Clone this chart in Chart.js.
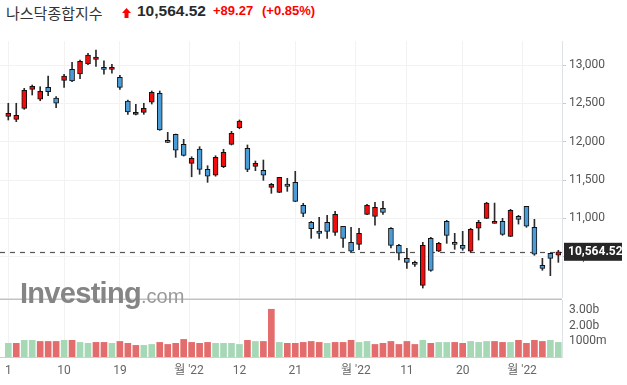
<!DOCTYPE html>
<html>
<head>
<meta charset="utf-8">
<script src="https://cdn.jsdelivr.net/npm/chart.js@4.4.1/dist/chart.umd.min.js"></script>
<style>
    body { margin: 0; width: 627px; height: 385px; background: #fff; position: relative; overflow: hidden; }
    canvas { position: absolute; left: 0; }
    #price-chart { top: 41px; }
    #volume-chart { top: 298px; }
    .hdr { position: absolute; top: 2px; line-height: 20px; white-space: nowrap; }
    #name { left: 6px; font: 15px "Noto Sans CJK KR", sans-serif; color: #333; }
    #last { left: 137px; font: bold 15.5px "Liberation Sans", Arial, sans-serif; color: #2a2a2a; }
    #chg { left: 213px; font: bold 13px "Liberation Sans", Arial, sans-serif; color: #f00; top: 3px; }
    #pct { left: 262px; font: bold 13px "Liberation Sans", Arial, sans-serif; color: #f00; top: 3px; }
    #arrow { position: absolute; left: 122px; top: 8px; }
    #wm { position: absolute; left: 20px; top: 277px; line-height: 29px; white-space: nowrap; color: #858585; }
    #wm .big { font: bold 29px "Liberation Sans", Arial, sans-serif; letter-spacing: -0.7px; }
    #wm .small { font: 20px "Liberation Sans", Arial, sans-serif; color: #9a9a9a; }
</style>
</head>
<body>
<canvas id="price-chart" width="627" height="257"></canvas>
<canvas id="volume-chart" width="627" height="87"></canvas>

<div id="name" class="hdr">나스닥종합지수</div>
<svg id="arrow" width="9" height="10" viewBox="0 0 9 10"><polygon points="4.5,0 9,5 6.5,5 6.5,10 2.5,10 2.5,5 0,5" fill="#f00"/></svg>
<div id="last" class="hdr">10,564.52</div>
<div id="chg" class="hdr">+89.27</div>
<div id="pct" class="hdr">(+0.85%)</div>
<div id="wm"><span class="big">Investing</span><span class="small">.com</span></div>

<script>
// daily OHLC
const opens  = [12331, 12292, 12435, 12683, 12553, 12709, 12570, 12800, 12944, 12883,
                13013, 13074, 12970, 12944, 12840, 12531, 12357, 12383, 12514, 12631,
                12018, 12096, 11966, 11718, 11905, 11640, 11563, 11674, 11966, 12182,
                11914, 11679, 11627, 11405, 11340, 11448, 11470, 11170, 10949, 10835,
                10949, 10818, 10897, 10688, 10662, 11053, 11027, 11131, 10871, 10649,
                10479, 10427, 10127, 10740, 10571, 10962, 10688, 10649, 10571, 10871,
                11001, 10936, 10962, 10766, 11027, 11157, 10884, 10388, 10545, 10519];
const highs  = [12501, 12501, 12696, 12739, 12717, 12857, 12587, 12879, 13035, 13065,
                13153, 13196, 13056, 13009, 12866, 12544, 12488, 12501, 12661, 12661,
                12122, 12100, 12031, 11804, 11935, 11687, 11817, 11901, 12135, 12283,
                11957, 11748, 11761, 11457, 11536, 11523, 11614, 11197, 10962, 11014,
                11040, 11092, 10897, 10884, 10871, 11184, 11210, 11223, 10879, 10662,
                10610, 10444, 10688, 10753, 10688, 10975, 10805, 10831, 10871, 10975,
                11210, 11200, 11001, 11118, 11040, 11157, 10988, 10479, 10545, 10584];
const lows   = [12283, 12261, 12422, 12609, 12534, 12600, 12443, 12709, 12782, 12821,
                13004, 12983, 12879, 12892, 12683, 12357, 12348, 12357, 12491, 12148,
                11987, 11796, 11813, 11543, 11575, 11470, 11550, 11661, 11957, 12169,
                11609, 11622, 11496, 11327, 11335, 11353, 11218, 11022, 10740, 10740,
                10740, 10779, 10623, 10566, 10591, 11048, 10910, 11053, 10614, 10457,
                10349, 10375, 10092, 10310, 10566, 10675, 10597, 10584, 10558, 10718,
                10996, 10936, 10779, 10762, 10926, 10884, 10519, 10323, 10253, 10427];
const closes = [12370, 12344, 12670, 12722, 12657, 12652, 12501, 12857, 12791, 13048,
                13130, 13104, 12944, 12970, 12709, 12387, 12383, 12435, 12644, 12152,
                11992, 11888, 11822, 11783, 11640, 11549, 11796, 11862, 12109, 12270,
                11640, 11718, 11562, 11444, 11536, 11418, 11222, 11066, 10865, 10805,
                10831, 11053, 10740, 10571, 10805, 11170, 11144, 11079, 10649, 10545,
                10427, 10401, 10649, 10323, 10675, 10779, 10662, 10610, 10858, 10949,
                11200, 10962, 10792, 11105, 10988, 10897, 10532, 10349, 10479, 10564.52];

// volume in billions, and the colour side of each volume bar
const volumes = [0.87, 0.87, 1.06, 1.06, 0.99, 0.99, 0.99, 1.06, 1.06, 0.93,
                 0.87, 0.93, 0.93, 0.87, 0.99, 0.87, 0.74, 0.74, 0.80, 0.93,
                 0.80, 0.87, 1.12, 0.93, 0.87, 0.93, 0.87, 0.87, 0.87, 0.80,
                 1.06, 0.99, 0.99, 3.04, 0.93, 0.87, 0.87, 0.93, 0.99, 0.93,
                 0.87, 0.93, 0.93, 1.06, 0.93, 0.99, 0.80, 0.87, 0.99, 0.80,
                 0.99, 0.80, 1.06, 0.87, 0.93, 0.93, 0.93, 0.87, 0.99, 0.93,
                 0.99, 0.99, 0.93, 0.93, 1.06, 0.87, 1.06, 0.99, 1.06, 0.93];
const volSide = ['g','r','g','g','r','r','r','g','r','g',
                 'g','r','r','g','r','r','r','g','g','r',
                 'r','r','r','r','r','r','g','g','g','g',
                 'r','g','r','r','g','r','r','r','r','r',
                 'g','r','r','r','g','g','r','r','r','r',
                 'r','r','g','r','g','g','r','r','g','g',
                 'g','r','r','g','r','r','r','r','g','g'];

const lastClose = 10564.52;

// axis ticks
const dateTicks = [0, 7, 14, 22.67, 29, 36, 43.6, 50, 57, 64.45];
const dateLabels = ['1', '10', '19', "월 '22", '12', '21', "월 '22", '11', '20', "월 '22"];
const priceTicks = [10500, 11000, 11500, 12000, 12500, 13000];
const volTicks = [1, 2, 3];
const volTickLabels = ['1000m', '2.00b', '3.00b'];

const xMin = -1.04, xMax = 69.46;
const UP = '#f20d0d', DOWN = '#4b9bd6';
const GRID = '#f2f2f2';
const tickFont = { family: 'Roboto, "Noto Sans CJK KR", sans-serif', size: 12 };

const lastPricePlugin = {
    id: 'lastPrice',
    beforeDatasetsDraw(chart) {
        const { ctx, chartArea, scales } = chart;
        const y = Math.round(scales.y.getPixelForValue(lastClose)) + 0.5;
        ctx.save();
        ctx.strokeStyle = '#555';
        ctx.lineWidth = 1.2;
        ctx.setLineDash([5, 5]);
        ctx.beginPath();
        ctx.moveTo(chartArea.left, y);
        ctx.lineTo(chartArea.right, y);
        ctx.stroke();
        ctx.restore();
    },
    afterDraw(chart) {
        const { ctx, chartArea, scales } = chart;
        const y = scales.y.getPixelForValue(lastClose);
        ctx.save();
        ctx.fillStyle = '#262626';
        ctx.fillRect(chartArea.right + 2, y - 9, 58, 18);
        ctx.fillStyle = '#fff';
        ctx.font = 'bold 12px Roboto, sans-serif';
        ctx.textBaseline = 'middle';
        ctx.fillText(lastClose.toLocaleString('en-US', { minimumFractionDigits: 2 }), chartArea.right + 6, y + 0.5);
        ctx.restore();
    }
};

const separatorPlugin = {
    id: 'separator',
    afterDraw(chart) {
        const { ctx, chartArea } = chart;
        ctx.save();
        ctx.fillStyle = '#c2c2c2';
        ctx.fillRect(0, 0.5, chartArea.right, 1.5);
        ctx.restore();
    }
};

function xScale(showLabels) {
    return {
        type: 'linear',
        min: xMin,
        max: xMax,
        offset: false,
        grid: { color: GRID, drawTicks: false, offset: false },
        border: showLabels ? { display: true, color: '#cfcfcf' } : { display: false },
        ticks: {
            display: showLabels,
            autoSkip: false,
            maxRotation: 0,
            padding: 7,
            color: '#666',
            font: tickFont,
            callback: (v, i) => dateLabels[i]
        },
        afterBuildTicks: s => { s.ticks = dateTicks.map(v => ({ value: v })); },
        afterFit: s => {
            s.height = showLabels ? 28 : 0;
            s.paddingLeft = 0;
            s.paddingRight = 0;
        }
    };
}

function fitRightAxis(s) {
    s.width = 65;
    s.paddingTop = 0;
    s.paddingBottom = 0;
}

const bodyData = opens.map((o, i) => ({ x: i, y: [o, closes[i]] }));
const wickData = lows.map((l, i) => ({ x: i, y: [l, highs[i]] }));
const bodyColors = opens.map((o, i) => closes[i] >= o ? UP : DOWN);

new Chart(document.getElementById('price-chart'), {
    type: 'bar',
    data: {
        datasets: [{
            label: 'body',
            data: bodyData,
            backgroundColor: bodyColors,
            borderColor: '#111',
            borderWidth: 1,
            borderSkipped: false,
            barThickness: 5,
            grouped: false,
            order: 0
        }, {
            label: 'wick',
            data: wickData,
            backgroundColor: '#2b2b2b',
            barThickness: 1,
            grouped: false,
            order: 1
        }]
    },
    options: {
        responsive: false,
        animation: false,
        events: [],
        layout: { padding: 0 },
        plugins: { legend: { display: false }, tooltip: { enabled: false } },
        scales: {
            x: xScale(false),
            y: {
                position: 'right',
                min: 9962,
                max: 13313,
                beginAtZero: false,
                grid: { color: GRID, tickColor: '#c8c8c8', tickLength: 4 },
                border: { color: '#dde1e8' },
                ticks: {
                    color: '#555',
                    font: tickFont,
                    padding: 3,
                    callback: v => v.toLocaleString('en-US')
                },
                afterBuildTicks: s => { s.ticks = priceTicks.map(v => ({ value: v })); },
                afterFit: fitRightAxis
            }
        }
    },
    plugins: [lastPricePlugin]
});

new Chart(document.getElementById('volume-chart'), {
    type: 'bar',
    data: {
        datasets: [{
            label: 'volume',
            data: volumes.map((v, i) => ({ x: i, y: v })),
            backgroundColor: volSide.map(s => s === 'g' ? '#a6d8b6' : '#e36c6c'),
            barThickness: 6
        }]
    },
    options: {
        responsive: false,
        animation: false,
        events: [],
        layout: { padding: { top: 2 } },
        plugins: { legend: { display: false }, tooltip: { enabled: false } },
        scales: {
            x: xScale(true),
            y: {
                position: 'right',
                min: 0,
                max: 3.63,
                grid: { display: false, tickColor: '#c8c8c8', tickLength: 4 },
                border: { color: '#dde1e8' },
                ticks: {
                    color: '#555',
                    font: tickFont,
                    padding: 3,
                    callback: (v, i) => volTickLabels[i]
                },
                afterBuildTicks: s => { s.ticks = volTicks.map(v => ({ value: v })); },
                afterFit: fitRightAxis
            }
        }
    },
    plugins: [separatorPlugin]
});
</script>
</body>
</html>
